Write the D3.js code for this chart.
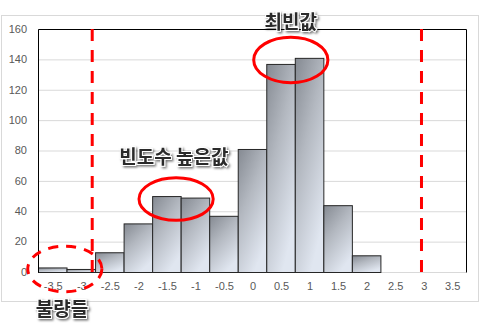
<!DOCTYPE html>
<html>
<head>
<meta charset="utf-8">
<script src="https://cdn.jsdelivr.net/npm/d3@7"></script>
<style>
  html, body { margin: 0; padding: 0; background: #fff; }
  svg { display: block; }
</style>
</head>
<body>
<svg id="chart" width="480" height="331"></svg>
<script>
// Histogram bins (bin centres) and their counts
const categories = ["-3.5", "-3", "-2.5", "-2", "-1.5", "-1", "-0.5", "0", "0.5", "1", "1.5", "2", "2.5", "3", "3.5"];
const counts = [3, 2, 13, 32, 50, 49, 37, 81, 137, 141, 44, 11, 0, 0, 0];
const yTicks = [0, 20, 40, 60, 80, 100, 120, 140, 160];

// Spec limit lines (in x units)
const limitLines = [-2.8, 2.97];

// Callout ellipses: centre (x units, count units), radii (x units, count units)
const calloutX = [0.68, -1.33, -3.28];
const calloutY = [139.6, 48, 2];
const calloutRx = [0.65, 0.65, 0.65];
const calloutRy = [15, 14, 15];
const calloutDashed = [false, false, true];

// Callout labels
const labelTexts = ["최빈값", "빈도수 높은값", "불량들"];
const labelX = [0.68, -1.37, -3.33];
const labelY = [164.6, 75.7, -24.4];

const svg = d3.select("#chart");
const plot = { left: 38, top: 29, right: 466, bottom: 272 };

// Outer chart frame
svg.append("rect")
  .attr("x", 1.5).attr("y", 15.5)
  .attr("width", 477).attr("height", 286)
  .attr("fill", "#fff").attr("stroke", "#d9d9d9").attr("stroke-width", 1);

const x = d3.scaleBand().domain(categories).range([plot.left, plot.right]).padding(0);
const xv = d3.scaleLinear().domain([-3.75, 3.75]).range([plot.left, plot.right]);
const y = d3.scaleLinear().domain([0, 160]).range([plot.bottom, plot.top]);

const defs = svg.append("defs");
const grad = defs.append("linearGradient")
  .attr("id", "barGrad")
  .attr("x1", 0).attr("y1", 0).attr("x2", 0.55).attr("y2", 1);
grad.append("stop").attr("offset", "0%").attr("stop-color", "#858a92");
grad.append("stop").attr("offset", "45%").attr("stop-color", "#b3b8c0");
grad.append("stop").attr("offset", "100%").attr("stop-color", "#e0e6f0");

const shadow = defs.append("filter").attr("id", "txtShadow")
  .attr("x", "-20%").attr("y", "-30%").attr("width", "140%").attr("height", "170%");
shadow.append("feDropShadow")
  .attr("dx", 1.5).attr("dy", 1.5).attr("stdDeviation", 0.9)
  .attr("flood-color", "#000").attr("flood-opacity", 0.55);

// Gridlines
svg.append("g")
  .selectAll("line")
  .data(yTicks.filter(d => d > 0))
  .join("line")
  .attr("x1", plot.left).attr("x2", plot.right)
  .attr("y1", d => y(d) + 0.5).attr("y2", d => y(d) + 0.5)
  .attr("stroke", "#d9d9d9").attr("stroke-width", 1);

// Bottom axis line
svg.append("line")
  .attr("x1", plot.left).attr("x2", plot.right)
  .attr("y1", plot.bottom + 0.5).attr("y2", plot.bottom + 0.5)
  .attr("stroke", "#d9d9d9");

// Bars
svg.append("g")
  .selectAll("rect")
  .data(categories.map((c, i) => ({ c, v: counts[i] })).filter(d => d.v > 0))
  .join("rect")
  .attr("x", d => x(d.c) + 0.5)
  .attr("y", d => y(d.v) + 0.5)
  .attr("width", x.bandwidth())
  .attr("height", d => y(0) - y(d.v))
  .attr("fill", "url(#barGrad)")
  .attr("stroke", "#262626")
  .attr("stroke-width", 1);

// Plot frame (top, left, right)
svg.append("path")
  .attr("d", `M${plot.left + 0.5},${plot.bottom + 0.5} V${plot.top + 0.5} H${plot.right + 0.5} V${plot.bottom + 0.5}`)
  .attr("fill", "none").attr("stroke", "#000").attr("stroke-width", 1);

// Y axis labels
svg.append("g")
  .selectAll("text")
  .data(yTicks)
  .join("text")
  .attr("x", 27).attr("y", d => y(d))
  .attr("dy", "0.35em")
  .attr("text-anchor", "end")
  .attr("font-family", "'Liberation Sans', Arial, sans-serif")
  .attr("font-size", 11)
  .attr("fill", "#595959")
  .text(d => d);

// X axis labels
svg.append("g")
  .selectAll("text")
  .data(categories)
  .join("text")
  .attr("x", d => x(d) + x.bandwidth() / 2 + 1)
  .attr("y", 290)
  .attr("text-anchor", "middle")
  .attr("font-family", "'Liberation Sans', Arial, sans-serif")
  .attr("font-size", 11)
  .attr("fill", "#595959")
  .text(d => d);

// Limit lines
svg.append("g")
  .selectAll("line")
  .data(limitLines)
  .join("line")
  .attr("x1", d => xv(d)).attr("x2", d => xv(d))
  .attr("y1", plot.top).attr("y2", plot.bottom)
  .attr("stroke", "#ff0000").attr("stroke-width", 3)
  .attr("stroke-dasharray", "12,9");

// Callout ellipses
svg.append("g")
  .selectAll("ellipse")
  .data(calloutX.map((cx, i) => ({ cx, cy: calloutY[i], rx: calloutRx[i], ry: calloutRy[i], dashed: calloutDashed[i] })))
  .join("ellipse")
  .attr("cx", d => xv(d.cx))
  .attr("cy", d => y(d.cy))
  .attr("rx", d => xv(d.rx) - xv(0))
  .attr("ry", d => y(0) - y(d.ry))
  .attr("fill", "none")
  .attr("stroke", "#ff0000")
  .attr("stroke-width", 3)
  .attr("stroke-dasharray", d => d.dashed ? "10,8" : null);

// Callout labels
svg.append("g")
  .selectAll("text")
  .data(labelTexts.map((t, i) => ({ t, x: labelX[i], y: labelY[i] })))
  .join("text")
  .attr("x", d => xv(d.x))
  .attr("y", d => y(d.y))
  .attr("dy", "0.36em")
  .attr("text-anchor", "middle")
  .attr("font-family", "'Noto Sans CJK KR', sans-serif")
  .attr("font-weight", 700)
  .attr("font-size", 19)
  .attr("fill", "#2b2b2b")
  .attr("stroke", "#ffffff")
  .attr("stroke-width", 2)
  .attr("paint-order", "stroke")
  .attr("filter", "url(#txtShadow)")
  .text(d => d.t);
</script>
</body>
</html>
